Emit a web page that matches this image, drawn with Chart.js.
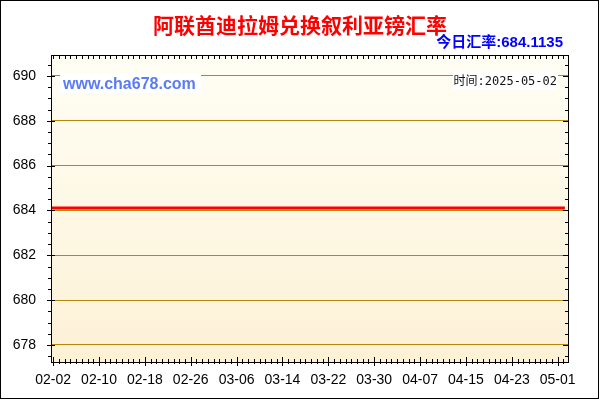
<!DOCTYPE html>
<html><head><meta charset="utf-8">
<script src="https://cdn.jsdelivr.net/npm/chart.js@4"></script>
<style>html,body{margin:0;padding:0;background:#fff}#wrap{width:600px;height:400px}</style>
</head><body><div id="wrap"><canvas id="c" width="600" height="400"></canvas></div>
<script>
const titleText = '阿联酋迪拉姆兑换叙利亚镑汇率';
const rateText = '今日汇率:684.1135';
const siteText = 'www.cha678.com';
const dateText = '时间:2025-05-02';

// day offsets (from 02-02) of labelled ticks, and their labels
const tickDays = [0, 8, 16, 24, 32, 40, 48, 56, 64, 72, 80, 88];
const tickLabels = ['02-02','02-10','02-18','02-26','03-06','03-14','03-22','03-30','04-07','04-15','04-23','05-01'];
const yTicks = [678, 680, 682, 684, 686, 688, 690];

// daily rate, 02-02 .. 05-02 (90 days)
const rates = [
 684.1135,684.1135,684.1135,684.1135,684.1135,684.1135,684.1135,684.1135,684.1135,684.1135,
 684.1135,684.1135,684.1135,684.1135,684.1135,684.1135,684.1135,684.1135,684.1135,684.1135,
 684.1135,684.1135,684.1135,684.1135,684.1135,684.1135,684.1135,684.1135,684.1135,684.1135,
 684.1135,684.1135,684.1135,684.1135,684.1135,684.1135,684.1135,684.1135,684.1135,684.1135,
 684.1135,684.1135,684.1135,684.1135,684.1135,684.1135,684.1135,684.1135,684.1135,684.1135,
 684.1135,684.1135,684.1135,684.1135,684.1135,684.1135,684.1135,684.1135,684.1135,684.1135,
 684.1135,684.1135,684.1135,684.1135,684.1135,684.1135,684.1135,684.1135,684.1135,684.1135,
 684.1135,684.1135,684.1135,684.1135,684.1135,684.1135,684.1135,684.1135,684.1135,684.1135,
 684.1135,684.1135,684.1135,684.1135,684.1135,684.1135,684.1135,684.1135,684.1135,684.1135
];

const points = rates.map((v, i) => ({x: i, y: v}));

const framePlugin = {
  id: 'frame',
  beforeDraw(chart) {
    const {ctx, chartArea: a} = chart;
    ctx.save();
    ctx.fillStyle = '#ffffff';
    ctx.fillRect(0, 0, chart.width, chart.height);
    const g = ctx.createLinearGradient(0, a.top, 0, a.bottom);
    g.addColorStop(0, '#fffef4');
    g.addColorStop(1, '#fdf1d6');
    ctx.fillStyle = g;
    ctx.fillRect(a.left, a.top, a.right - a.left, a.bottom - a.top);
    ctx.restore();
  },
  afterDraw(chart) {
    const {ctx, chartArea: a} = chart;
    const xs = chart.scales.x, ys = chart.scales.y;
    ctx.save();
    // outer frame
    ctx.strokeStyle = '#000';
    ctx.lineWidth = 1;
    ctx.strokeRect(0.5, 0.5, 598, 398);
    // plot frame
    ctx.strokeRect(a.left - 0.5, a.top - 0.5, a.right - a.left + 1, a.bottom - a.top + 1);
    ctx.beginPath();
    // x ticks (daily)
    for (let d = 0; d <= 89; d++) {
      const px = Math.round(xs.getPixelForValue(d)) + 0.5;
      const major = tickDays.includes(d);
      ctx.moveTo(px, a.bottom - (major ? 5 : 3));
      ctx.lineTo(px, a.bottom + (major ? 4 : 2));
      ctx.moveTo(px, a.top);
      ctx.lineTo(px, a.top + 3);
    }
    // y ticks every 0.5
    for (let v = 677.5; v <= 690.5; v += 0.5) {
      const py = Math.round(ys.getPixelForValue(v)) + 0.5;
      const major = yTicks.includes(v);
      ctx.moveTo(a.left - (major ? 5 : 4), py);
      ctx.lineTo(a.left + (major ? 3 : 0), py);
      ctx.moveTo(a.right, py);
      ctx.lineTo(a.right - (major ? 5 : 3), py);
    }
    ctx.stroke();

    // title
    ctx.textAlign = 'center';
    ctx.textBaseline = 'middle';
    ctx.fillStyle = '#ff0000';
    ctx.font = 'bold 21px "Noto Sans CJK SC", sans-serif';
    ctx.fillText(titleText, 300, 25);
    // today rate
    ctx.textAlign = 'right';
    ctx.fillStyle = '#0000ff';
    ctx.font = 'bold 15px "Liberation Sans", "Noto Sans CJK SC", sans-serif';
    ctx.fillText(rateText, 563, 43);
    // site text with white box
    ctx.fillStyle = '#ffffff';
    ctx.fillRect(60, 73, 141, 20);
    ctx.textAlign = 'left';
    ctx.fillStyle = '#5b7bf3';
    ctx.font = 'bold 16px "Liberation Sans", sans-serif';
    ctx.fillText(siteText, 63, 84.5);
    // date text with white box
    ctx.fillStyle = '#ffffff';
    ctx.fillRect(453, 72, 105, 18);
    ctx.save();
    ctx.beginPath();
    ctx.rect(453, 72, 105, 18);
    ctx.clip();
    ctx.textAlign = 'right';
    ctx.fillStyle = '#111';
    ctx.font = '12px "DejaVu Sans Mono", "Noto Sans CJK SC", monospace';
    ctx.fillText(dateText, 557, 81.5);
    ctx.restore();
    ctx.restore();
  }
};

new Chart(document.getElementById('c'), {
  type: 'line',
  data: {
    datasets: [{
      data: points,
      borderColor: '#ff0000',
      borderWidth: 3,
      borderCapStyle: 'square',
      pointRadius: 0,
      tension: 0,
      fill: false
    }]
  },
  options: {
    responsive: false,
    devicePixelRatio: 1,
    animation: false,
    layout: {padding: {top: 56, right: 32, left: 0, bottom: 0}},
    plugins: {legend: {display: false}, title: {display: false}, tooltip: {enabled: false}},
    scales: {
      x: {
        type: 'linear',
        min: -0.2,
        max: 89.8,
        afterBuildTicks: s => { s.ticks = tickDays.map(v => ({value: v})); },
        afterFit: s => { s.height = 38; },
        ticks: {
          callback: (v, i) => tickLabels[i],
          autoSkip: false,
          maxRotation: 0,
          padding: 10,
          color: '#000',
          font: {family: '"Liberation Sans", Arial, sans-serif', size: 14}
        },
        grid: {display: false, drawTicks: false},
        border: {display: false}
      },
      y: {
        min: 677.24,
        max: 690.89,
        afterBuildTicks: s => { s.ticks = yTicks.map(v => ({value: v})); },
        afterFit: s => { s.width = 52; },
        ticks: {
          padding: 16,
          color: '#000',
          font: {family: '"Liberation Sans", Arial, sans-serif', size: 14}
        },
        grid: {color: '#b8860b', lineWidth: 1, drawTicks: false},
        border: {display: false}
      }
    }
  },
  plugins: [framePlugin]
});
</script>
</body></html>
